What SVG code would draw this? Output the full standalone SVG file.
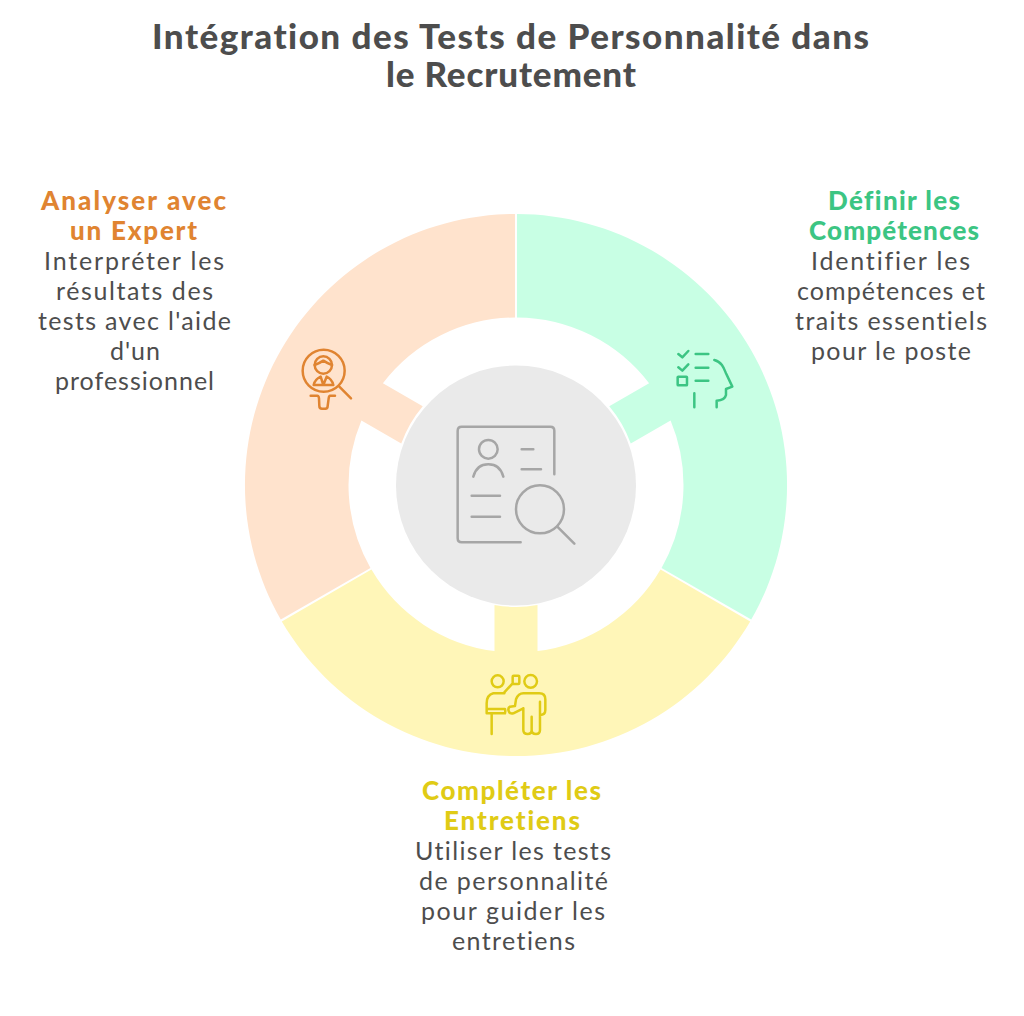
<svg xmlns="http://www.w3.org/2000/svg" width="1024" height="1016" viewBox="0 0 1024 1016">
<style>
text{font-family:"Lato","Noto Sans",sans-serif;text-anchor:middle;fill:#4d4d4d;font-size:25px;font-variant-ligatures:none}
.t{font-size:35px;font-weight:900}
.h{font-size:26px;font-weight:900}
.g{fill:#3cc583}
.y{fill:#e0cb15}
.o{fill:#e08431}
.ic{fill:none;stroke-width:7.5;stroke-linecap:round;stroke-linejoin:round}
</style>
<defs>
<path id="seg" d="M-234.2,-136.4A271 271 0 0 1 234.2,-136.4L144.55,-84.6A167.5 167.5 0 0 0 21.5,-166.1L21.5,-120.1A122 122 0 0 0 -21.5,-120.1L-21.5,-166.1A167.5 167.5 0 0 0 -144.55,-84.6Z"/>
</defs>
<rect width="1024" height="1016" fill="#ffffff"/>
<g id="title">
<text class="t" x="510.5" y="49" textLength="717">Intégration des Tests de Personnalité dans</text>
<text class="t" x="511" y="87" textLength="250">le Recrutement</text>
</g>
<g id="connectors"></g>
<g id="node-definir">
<use href="#seg" transform="translate(516 485) rotate(60)" fill="#c8ffe4"/>
<g class="ic" stroke="#3cc583" transform="translate(600 330) scale(.3333)">
<path d="M235,72L247,82L265,63M287,72H325M235,112L247,122L265,103M287,113H325M287,152H325M283,190V232"/>
<rect x="233" y="140" width="28" height="26" rx="2"/>
<path d="M343,90C365,95 372,115 378,130L397,170L378,177V195Q375,210 350,212V232"/>
</g>
<text class="h g" x="894" y="210" textLength="132">Définir les</text>
<text class="h g" x="894" y="240" textLength="170">Compétences</text>
<text x="890.5" y="270" textLength="159">Identifier les</text>
<text x="891" y="300" textLength="188">compétences et</text>
<text x="891" y="330" textLength="192">traits essentiels</text>
<text x="891" y="360" textLength="160">pour le poste</text>
</g>
<g id="node-completer">
<use href="#seg" transform="translate(516 485) rotate(180)" fill="#fff6b8"/>
<g class="ic" stroke="#e0cb15" transform="translate(460 600) scale(.3333)">
<circle cx="113" cy="244" r="18"/>
<circle cx="212" cy="244" r="19"/>
<path d="M133,277L158,250M158,230Q158,227 161,227H175Q178,227 178,230V249Q178,252 175,252H158Z"/>
<path d="M133,280H100Q80,285 80,310V327H135Q137,333 135,340H80V327M95,340V402"/>
<path d="M190,325V390Q190,402 203,402Q215,402 215,390V350V390Q215,402 228,402Q240,402 240,390V305M240,345Q256,345 256,330V298Q256,280 238,280H190Q175,280 168,298L165,318L150,320Q142,325 147,335Q150,342 160,340L190,325"/>
</g>
<text class="h y" x="511.5" y="800" textLength="179">Compléter les</text>
<text class="h y" x="512" y="830" textLength="136">Entretiens</text>
<text x="513" y="860" textLength="196">Utiliser les tests</text>
<text x="513.5" y="890" textLength="189">de personnalité</text>
<text x="513" y="920" textLength="184">pour guider les</text>
<text x="513.5" y="950" textLength="123">entretiens</text>
</g>
<g id="node-analyser">
<use href="#seg" transform="translate(516 485) rotate(300)" fill="#ffe3cd"/>
<g class="ic" stroke="#e08431" transform="translate(280 330) scale(.3333)">
<circle cx="131" cy="122" r="63"/>
<circle cx="130" cy="105" r="26"/>
<path d="M104,105Q118,100 130,92Q142,100 156,105M101,165Q105,148 122,140L130,165L140,140Q156,148 160,165ZM178,170L213,205M92,197H112Q116,197 117,205L118,228Q118,236 126,236H136Q143,236 143,228L146,205Q147,197 150,197H165"/>
</g>
<text class="h o" x="133.5" y="210" textLength="185">Analyser avec</text>
<text class="h o" x="133.5" y="240" textLength="127">un Expert</text>
<text x="134" y="270" textLength="180">Interpréter les</text>
<text x="134.5" y="300" textLength="157">résultats des</text>
<text x="134.5" y="330" textLength="193">tests avec l'aide</text>
<text x="135" y="360" textLength="50">d'un</text>
<text x="134.5" y="390" textLength="159">professionnel</text>
</g>
<g id="node-centre">
<circle cx="516" cy="485.5" r="120" fill="#eaeaea"/>
<g class="ic" stroke="#a6a6a6" transform="translate(440 410) scale(.3333)">
<path d="M343,193V62Q343,50 331,50H65Q53,50 53,62V385Q53,397 65,397H242"/>
<circle cx="145" cy="118" r="28"/>
<path d="M100,200Q110,163 145,163Q180,163 190,200M245,118H280M245,178H303M95,257H180M95,320H180M352,350L403,401"/>
<circle cx="300" cy="298" r="72"/>
</g>
</g>
</svg>
